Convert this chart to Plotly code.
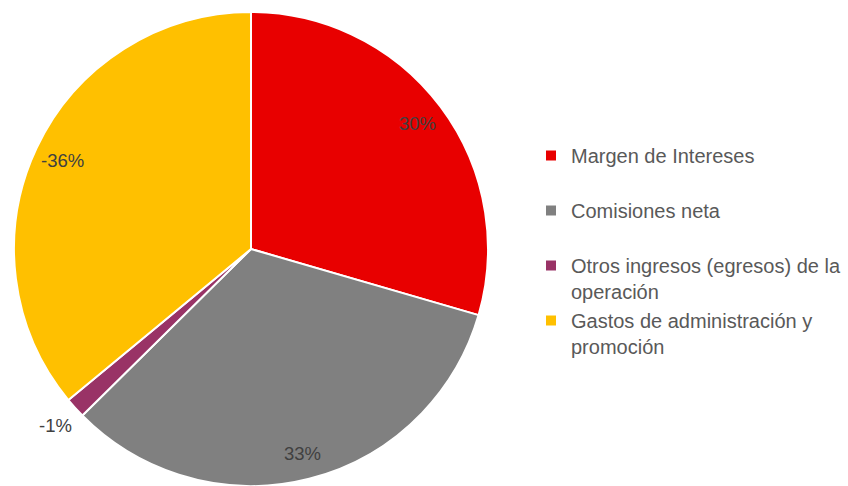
import math
import plotly.graph_objects as go

categories = ["Margen de Intereses", "Comisiones neta",
              "Otros ingresos (egresos) de la operación",
              "Gastos de administración y promoción"]
legend_labels = ["Margen de Intereses<br> ", "Comisiones neta<br> ",
                 "Otros ingresos (egresos) de la<br>operación",
                 "Gastos de administración y<br>promoción"]
values = [29.5, 33.1, 1.4, 36.0]
value_labels = ["30%", "33%", "-1%", "-36%"]
colors = ["#E80000", "#808080", "#993366", "#FFC000"]
label_radius = [0.88, 0.89, 1.11, 0.88]

W, H = 848, 486
mt, mb = 12, 0
plot_h = H - mt - mb
r = plot_h / 2
cx = 251
cy = mt + plot_h / 2

fig = go.Figure(go.Pie(
    labels=legend_labels,
    values=values,
    sort=False,
    direction="clockwise",
    rotation=0,
    marker=dict(colors=colors, line=dict(color="white", width=2)),
    textinfo="none",
    hoverinfo="label+percent",
    domain=dict(x=[(cx - r) / W, (cx + r) / W], y=[0, 1]),
))

total = sum(values)
cum = 0
for v, txt, rf in zip(values, value_labels, label_radius):
    mid = (cum + v / 2) / total * 2 * math.pi
    cum += v
    px = cx + rf * r * math.sin(mid)
    py = cy - rf * r * math.cos(mid)
    fig.add_annotation(x=px / W, y=1 - (py - mt) / plot_h, xref="paper", yref="paper",
                       text=txt, showarrow=False, xanchor="center", yanchor="middle",
                       font=dict(family="Liberation Sans, Arial", size=18.5, color="#404040"))

fig.update_layout(
    width=W, height=H,
    margin=dict(l=0, r=0, t=mt, b=mb),
    paper_bgcolor="white", plot_bgcolor="white",
    showlegend=True,
    legend=dict(x=531 / W, xanchor="left", y=1 - (136 - mt) / plot_h, yanchor="top",
                valign="top", font=dict(family="Liberation Sans, Arial", size=20, color="#595959"),
                bgcolor="rgba(0,0,0,0)"),
    font=dict(family="Liberation Sans, Arial"),
)

fig.write_html("out.html")
